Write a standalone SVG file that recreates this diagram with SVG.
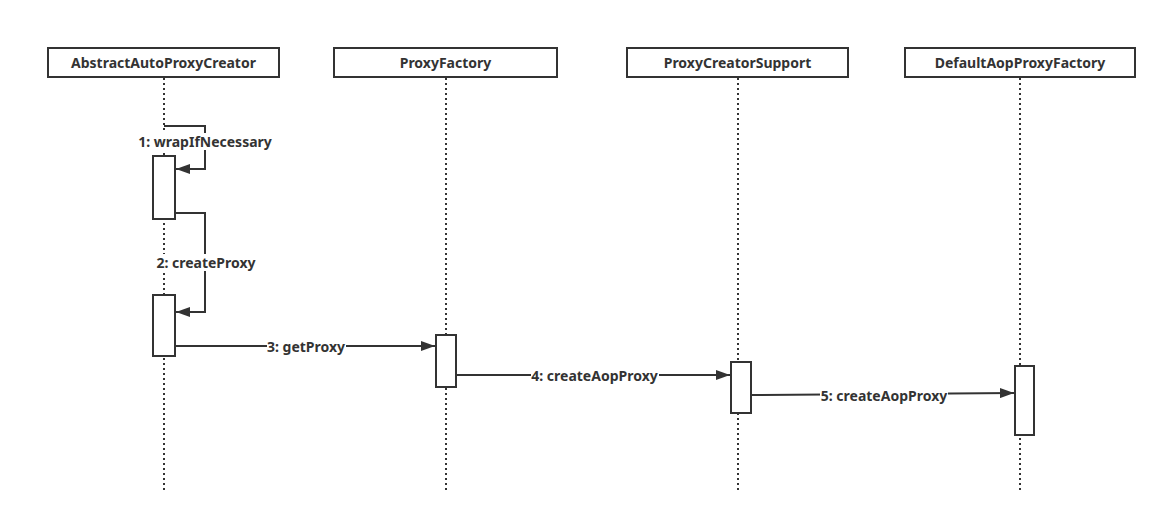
<svg xmlns="http://www.w3.org/2000/svg" width="1167" height="524" viewBox="0 0 1167 524">
<style>
.hdr{fill:#fff;stroke:#333;stroke-width:2}
.act{fill:#fff;stroke:#333;stroke-width:2}
.life{stroke:#333;stroke-width:2;stroke-dasharray:2 3;fill:none}
.msg{stroke:#333;stroke-width:2;fill:none}
.t{font-family:"Noto Sans","Liberation Sans",sans-serif;font-size:14px;font-weight:bold;fill:#333;text-anchor:middle}
.lbl{fill:#fff}
</style>
<defs>
<marker id="ah" markerWidth="14" markerHeight="10" refX="14" refY="5" orient="auto" markerUnits="userSpaceOnUse">
<path d="M0,0 L14,5 L0,10 Z" fill="#333"/>
</marker>
</defs>
<rect width="1167" height="524" fill="#fff"/>
<g id="lifelines">
<line class="life" x1="164" y1="78" x2="164" y2="490"/>
<line class="life" x1="446" y1="78" x2="446" y2="490"/>
<line class="life" x1="738" y1="78" x2="738" y2="490"/>
<line class="life" x1="1020" y1="78" x2="1020" y2="490"/>
</g>
<g id="AbstractAutoProxyCreator">
<rect class="hdr" x="48" y="48" width="231" height="29"/>
<text class="t" x="163.5" y="67.5">AbstractAutoProxyCreator</text>
</g>
<g id="ProxyFactory">
<rect class="hdr" x="334" y="48" width="223" height="29"/>
<text class="t" x="445.5" y="67.5">ProxyFactory</text>
</g>
<g id="ProxyCreatorSupport">
<rect class="hdr" x="627" y="48" width="221" height="29"/>
<text class="t" x="737.5" y="67.5">ProxyCreatorSupport</text>
</g>
<g id="DefaultAopProxyFactory">
<rect class="hdr" x="905" y="48" width="230" height="29"/>
<text class="t" x="1020" y="67.5">DefaultAopProxyFactory</text>
</g>
<g id="activations">
<rect class="act" x="153" y="156" width="22" height="63"/>
<rect class="act" x="153" y="295" width="22" height="61"/>
<rect class="act" x="436" y="335" width="20" height="52"/>
<rect class="act" x="731" y="362" width="20" height="51"/>
<rect class="act" x="1015" y="366" width="19" height="69"/>
</g>
<g id="connectors">
<polyline class="msg" points="164,126 205,126 205,169 176,169" marker-end="url(#ah)"/>
<rect class="lbl" x="137" y="133" width="136" height="17"/>
<text class="t" x="205" y="146.5">1: wrapIfNecessary</text>
<polyline class="msg" points="175,213 205,213 205,312 176,312" marker-end="url(#ah)"/>
<rect class="lbl" x="155" y="254" width="102" height="17"/>
<text class="t" x="206" y="267.5">2: createProxy</text>
<line class="msg" x1="175" y1="346" x2="435" y2="346" marker-end="url(#ah)"/>
<rect class="lbl" x="267" y="338" width="79" height="17"/>
<text class="t" x="306" y="351.5">3: getProxy</text>
<line class="msg" x1="456" y1="375" x2="730" y2="375" marker-end="url(#ah)"/>
<rect class="lbl" x="531" y="367" width="128" height="17"/>
<text class="t" x="594.5" y="380.5">4: createAopProxy</text>
<line class="msg" x1="751" y1="395" x2="1014" y2="393" marker-end="url(#ah)"/>
<rect class="lbl" x="820" y="387" width="128" height="17"/>
<text class="t" x="884" y="400.5">5: createAopProxy</text>
</g>
</svg>
